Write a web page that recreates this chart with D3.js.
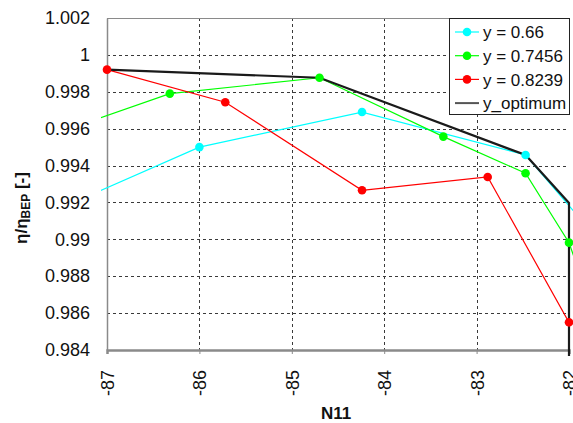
<!DOCTYPE html>
<html>
<head>
<meta charset="utf-8">
<script src="https://cdn.jsdelivr.net/npm/d3@7"></script>
<style>
  html, body { margin: 0; padding: 0; background: #fff; }
  svg { display: block; font-family: "Liberation Sans", Arial, sans-serif; }
</style>
</head>
<body>
<svg id="chart" width="573" height="423"></svg>
<script>
// Efficiency ratio versus unit speed N11 for three guide-vane openings
const xTicks = [-87, -86, -85, -84, -83, -82];
const yTicks = [0.984, 0.986, 0.988, 0.99, 0.992, 0.994, 0.996, 0.998, 1, 1.002];

const seriesNames = ["y = 0.66", "y = 0.7456", "y = 0.8239", "y_optimum"];
const seriesColors = ["#00ffff", "#00ff00", "#ff0000", "#1a1a1a"];

// y = 0.66
const n11A = [-87.5, -86, -84.24, -82.47, -81.5];
const effA = [0.99169, 0.995, 0.9969, 0.99457, 0.9889];
// y = 0.7456
const n11B = [-87.5, -86.32, -84.70, -83.36, -82.47, -82, -81.8];
const effB = [0.99584, 0.9979, 0.99876, 0.99557, 0.99358, 0.98982, 0.98693];
// y = 0.8239
const n11C = [-87, -85.72, -84.24, -82.88, -82, -82];
const effC = [0.9992, 0.99743, 0.99266, 0.99338, 0.9855, 0.982];
// y_optimum envelope
const n11Opt = [-87, -84.70, -82.47, -82, -82];
const effOpt = [0.9992, 0.99876, 0.99457, 0.99197, 0.982];

const svg = d3.select("#chart");
const mLeft = 107, mRight = 569, mTop = 18, mBottom = 350;

const x = d3.scaleLinear().domain([-87, -82]).range([mLeft, mRight]);
const y = d3.scaleLinear().domain([0.984, 1.002]).range([mBottom, mTop]);

// Gridlines
const grid = svg.append("g").attr("stroke", "#3a3a3a").attr("stroke-width", 1)
  .attr("stroke-dasharray", "3,3").attr("shape-rendering", "crispEdges");
grid.selectAll("line.h").data(yTicks.filter(v => v > 0.984 && v < 1.002)).join("line")
  .attr("x1", mLeft).attr("x2", mRight)
  .attr("y1", d => Math.round(y(d)) + 0.5).attr("y2", d => Math.round(y(d)) + 0.5);
grid.selectAll("line.v").data(xTicks.filter(v => v > -87 && v < -82)).join("line")
  .attr("y1", mTop).attr("y2", mBottom)
  .attr("x1", d => Math.round(x(d)) + 0.5).attr("x2", d => Math.round(x(d)) + 0.5);

// Plot frame: top edge
svg.append("line").attr("x1", mLeft).attr("x2", mRight).attr("y1", mTop + 0.5).attr("y2", mTop + 0.5)
  .attr("stroke", "#8a8a8a").attr("stroke-width", 1);

// Y axis (labels only, no tick marks)
const yAxis = svg.append("g").attr("transform", `translate(${mLeft},0)`)
  .call(d3.axisLeft(y).tickValues(yTicks).tickSize(0).tickPadding(17)
    .tickFormat(d => String(+d.toFixed(3))));
yAxis.select(".domain").attr("stroke", "#8a8a8a").attr("stroke-width", 1.5);
yAxis.selectAll("text").attr("font-size", 18).attr("fill", "#111");

// X axis with rotated labels (plain hyphen for the minus sign)
const xAxis = svg.append("g").attr("transform", `translate(0,${mBottom})`)
  .call(d3.axisBottom(x).tickValues(xTicks).tickSize(4).tickFormat(d => String(d)));
xAxis.select(".domain").attr("stroke", "#8a8a8a").attr("stroke-width", 2.5);
xAxis.selectAll(".tick line").attr("stroke", "#8a8a8a");
xAxis.selectAll("text")
  .attr("font-size", 18).attr("fill", "#111")
  .attr("transform", "rotate(-90)")
  .attr("text-anchor", "end")
  .attr("x", -20).attr("y", 0).attr("dy", "0.36em");

// Axis titles
svg.append("text").attr("x", (mLeft + mRight) / 2 - 2).attr("y", 419)
  .attr("text-anchor", "middle").attr("font-size", 17).attr("font-weight", "bold")
  .attr("fill", "#111").text("N11");

const yTitle = svg.append("text").attr("transform", "translate(27,208) rotate(-90)")
  .attr("text-anchor", "middle").attr("font-size", 17).attr("font-weight", "bold").attr("fill", "#111");
yTitle.append("tspan").text("η/η");
yTitle.append("tspan").attr("font-size", 12).attr("dy", 3).text("BEP");
yTitle.append("tspan").attr("dy", -3).text(" [-]");

// Data lines and markers, clipped near the plot area
svg.append("clipPath").attr("id", "plotClip").append("rect")
  .attr("x", mLeft - 6).attr("y", mTop - 6).attr("width", mRight - mLeft + 12).attr("height", mBottom - mTop + 12);

const series = [
  { xs: n11A, ys: effA, color: seriesColors[0] },
  { xs: n11B, ys: effB, color: seriesColors[1] },
  { xs: n11C, ys: effC, color: seriesColors[2] }
];
const line = d3.line().x(d => x(d[0])).y(d => y(d[1]));
const plot = svg.append("g").attr("clip-path", "url(#plotClip)");

series.forEach(s => {
  plot.append("path").datum(d3.zip(s.xs, s.ys))
    .attr("d", line).attr("fill", "none").attr("stroke", s.color).attr("stroke-width", 1.2);
});
plot.append("path").datum(d3.zip(n11Opt, effOpt))
  .attr("d", line).attr("fill", "none").attr("stroke", seriesColors[3]).attr("stroke-width", 2.2);

const markers = svg.append("g").attr("clip-path", "url(#plotClip)");
series.forEach(s => {
  markers.selectAll(null).data(d3.zip(s.xs, s.ys).filter(d => d[0] >= -87 && d[0] <= -82 && d[1] >= 0.984))
    .join("circle").attr("cx", d => x(d[0])).attr("cy", d => y(d[1])).attr("r", 4.3)
    .attr("fill", s.color);
});

// Legend
const lg = svg.append("g").attr("transform", "translate(449,18)");
lg.append("rect").attr("x", 0.5).attr("y", 0.5).attr("width", 120).attr("height", 96)
  .attr("fill", "#fff").attr("stroke", "#222").attr("stroke-width", 1);
seriesNames.forEach((name, i) => {
  const cy = 14 + i * 23.7;
  lg.append("line").attr("x1", 6).attr("x2", 30).attr("y1", cy).attr("y2", cy)
    .attr("stroke", i === 3 ? "#555" : seriesColors[i]).attr("stroke-width", i === 3 ? 2 : 1.2);
  if (i < 3) {
    lg.append("circle").attr("cx", 18).attr("cy", cy).attr("r", 4.3).attr("fill", seriesColors[i]);
  }
  lg.append("text").attr("x", 34).attr("y", cy).attr("dy", "0.36em")
    .attr("font-size", 17).attr("fill", "#111").text(name);
});
</script>
</body>
</html>
